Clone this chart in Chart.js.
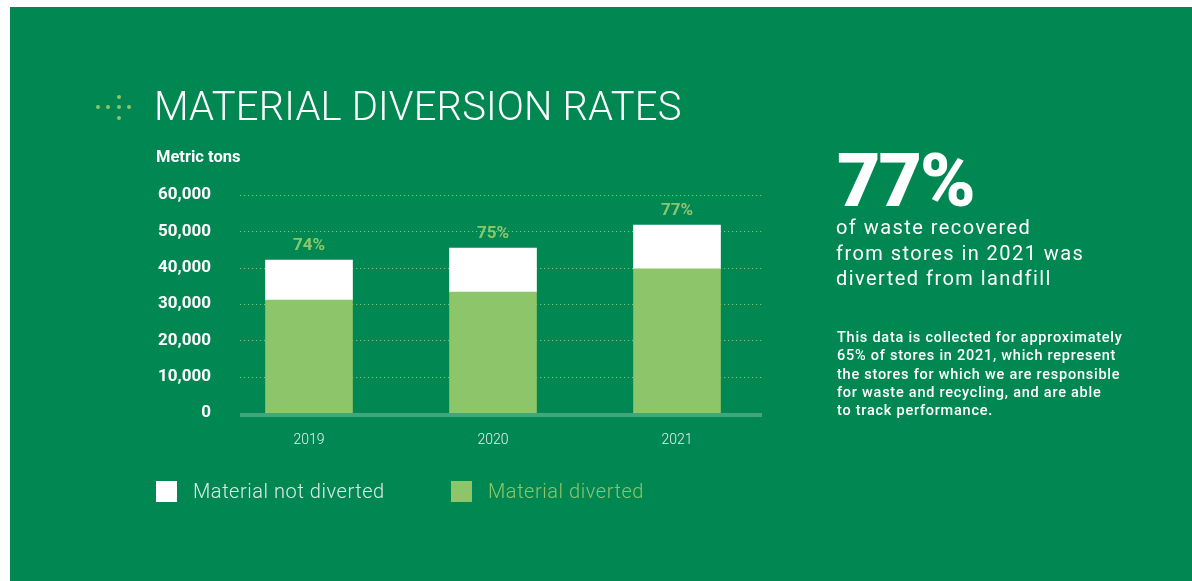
<!DOCTYPE html>
<html>
<head>
<meta charset="utf-8">
<script src="https://cdn.jsdelivr.net/npm/chart.js@4.4.1/dist/chart.umd.min.js"></script>
<style>
  body { margin: 0; background: #fff; width: 1192px; height: 581px; overflow: hidden; font-family: Roboto, sans-serif; }
  .panel { position: absolute; left: 10px; top: 7px; width: 1182px; height: 574px; background: #008752; }
  #chart { position: absolute; left: 0; top: 0; }
  .title { position: absolute; left: 154px; top: 83px; font-size: 40px; font-weight: 300; color: #fff; letter-spacing: 0.15px; white-space: nowrap; }
  .dot { position: absolute; width: 4px; height: 4px; border-radius: 50%; background: #8dc66a; }
  .unit { position: absolute; left: 156px; top: 147px; font-size: 16.5px; font-weight: 700; color: #fff; }
  .big { position: absolute; left: 837px; top: 136px; font-size: 75px; font-weight: 900; color: #fff; letter-spacing: -2px; }
  .lead { position: absolute; left: 836px; top: 215px; font-size: 20px; line-height: 25.7px; color: #fff; letter-spacing: 1.45px; }
  .note { position: absolute; left: 837px; top: 329px; font-size: 14.5px; line-height: 18.3px; font-weight: 500; color: #fff; letter-spacing: 0.75px; }
  .legend { position: absolute; top: 479px; display: flex; align-items: center; font-size: 20px; font-weight: 300; letter-spacing: 0.55px; }
  .legend span.sw { width: 21px; height: 21px; margin-right: 16px; }
</style>
</head>
<body>
<div class="panel"></div>
<canvas id="chart" width="1192" height="581"></canvas>

<div class="dot" style="left:96px;top:105px"></div>
<div class="dot" style="left:106px;top:105px"></div>
<div class="dot" style="left:117px;top:95px"></div>
<div class="dot" style="left:117px;top:105px"></div>
<div class="dot" style="left:117px;top:116px"></div>
<div class="dot" style="left:127px;top:105px"></div>
<div class="title">MATERIAL DIVERSION RATES</div>
<div class="unit">Metric tons</div>

<div class="big">77%</div>
<div class="lead">of waste recovered<br>from stores in 2021 was<br>diverted from landfill</div>
<div class="note">This data is collected for approximately<br>65% of stores in 2021, which represent<br>the stores for which we are responsible<br>for waste and recycling, and are able<br>to track performance.</div>

<div class="legend" style="left:156px;color:#dcefe2"><span class="sw" style="background:#fff"></span>Material not diverted</div>
<div class="legend" style="left:451px;color:#8dc66a"><span class="sw" style="background:#8dc66a"></span>Material diverted</div>

<script>
// Chart data
const years = ["2019", "2020", "2021"];
const diverted = [31100, 33300, 39650];
const notDiverted = [11000, 12100, 12100];
const rateLabels = ["74%", "75%", "77%"];
const yTicks = [0, 10000, 20000, 30000, 40000, 50000, 60000];

const GREEN = "#8dc66a";

// Dotted grid, thick baseline and percentage labels above bars
const decorPlugin = {
  id: "decor",
  beforeDatasetsDraw(chart) {
    const ctx = chart.ctx;
    const y = chart.scales.y;
    ctx.save();
    ctx.strokeStyle = "rgba(150,210,130,0.8)";
    ctx.lineWidth = 1.2;
    ctx.setLineDash([1.2, 2.8]);
    yTicks.forEach((v) => {
      if (v === 0) return;
      const py = Math.round(y.getPixelForValue(v)) + 0.5;
      ctx.beginPath();
      ctx.moveTo(240, py);
      ctx.lineTo(762, py);
      ctx.stroke();
    });
    ctx.restore();
  },
  afterDatasetsDraw(chart) {
    const ctx = chart.ctx;
    const base = chart.scales.y.getPixelForValue(0);
    ctx.save();
    ctx.fillStyle = "#43a57a";
    ctx.fillRect(240, base, 522, 4);
    const meta = chart.getDatasetMeta(1);
    ctx.fillStyle = GREEN;
    ctx.font = "bold 17px Roboto, sans-serif";
    ctx.textAlign = "center";
    ctx.textBaseline = "bottom";
    meta.data.forEach((bar, i) => {
      ctx.fillText(rateLabels[i], bar.x, bar.y - 6);
    });
    ctx.restore();
  },
};

new Chart(document.getElementById("chart"), {
  type: "bar",
  data: {
    labels: years,
    datasets: [
      { label: "Material diverted", data: diverted, backgroundColor: GREEN },
      { label: "Material not diverted", data: notDiverted, backgroundColor: "#ffffff" },
    ],
  },
  options: {
    responsive: false,
    animation: false,
    events: [],
    layout: { padding: { left: 100, right: 423, top: 195, bottom: 128 } },
    datasets: { bar: { barThickness: 87, borderWidth: 0 } },
    plugins: { legend: { display: false }, tooltip: { enabled: false } },
    scales: {
      x: {
        stacked: true,
        grid: { display: false },
        border: { display: false },
        ticks: { color: "#e4f2e9", padding: 11, font: { family: "Roboto", size: 14, weight: 300 } },
        afterFit: (s) => { s.height = 40; },
      },
      y: {
        stacked: true,
        min: 0,
        max: 60000,
        grid: { display: false, drawTicks: false },
        border: { display: false },
        ticks: {
          stepSize: 10000,
          padding: 6,
          color: "#ffffff",
          font: { family: "Roboto", size: 17, weight: "bold" },
          callback: (v) => v.toLocaleString("en-US"),
        },
        afterFit: (s) => { s.width = 117; },
      },
    },
  },
  plugins: [decorPlugin],
});
</script>
</body>
</html>
